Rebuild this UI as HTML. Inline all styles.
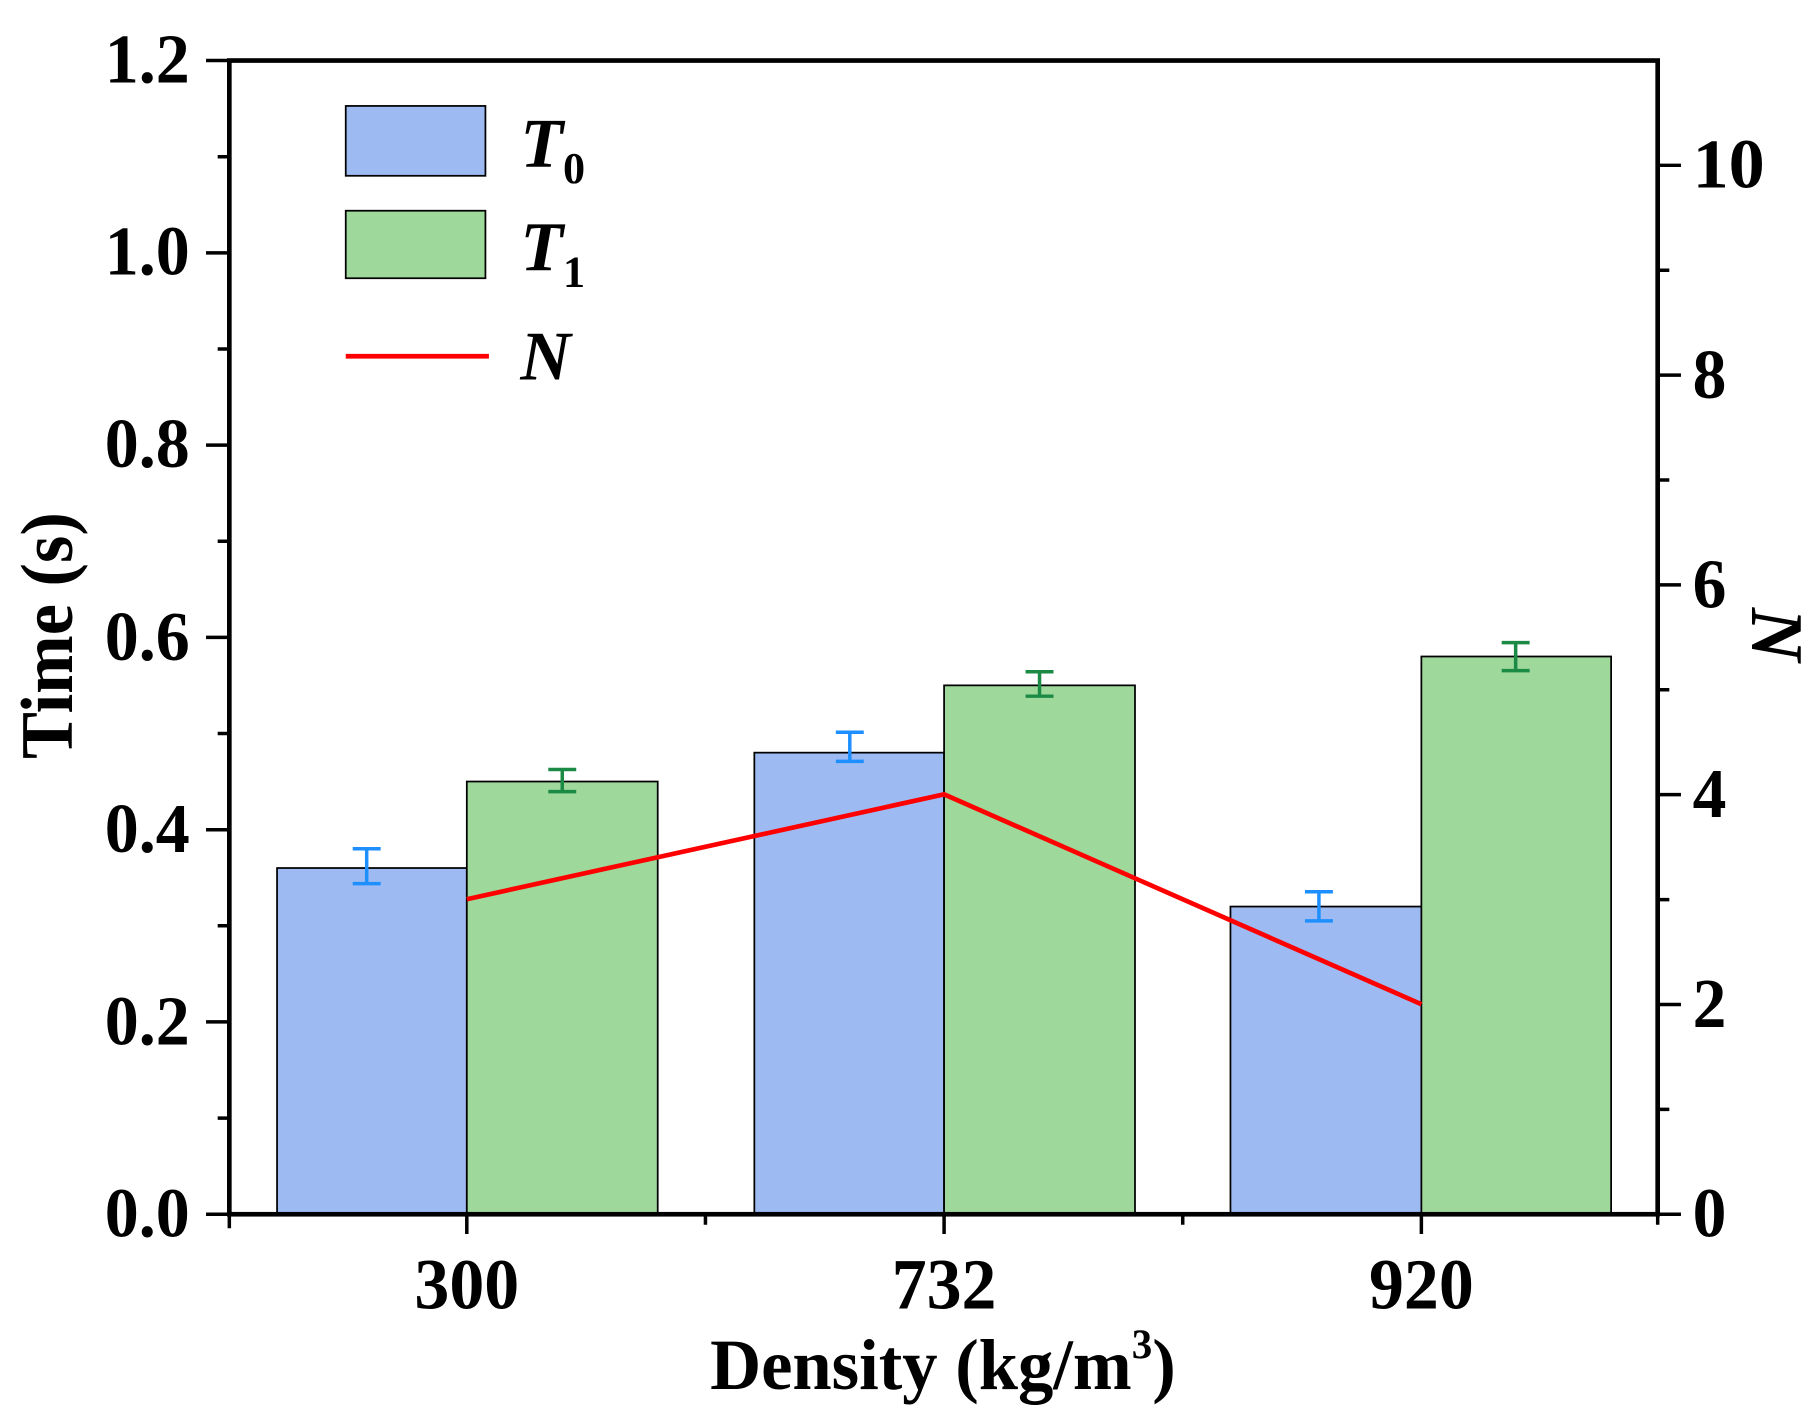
<!DOCTYPE html>
<html><head><style>html,body{margin:0;padding:0;background:#fff}</style></head><body>
<svg width="1816" height="1411" viewBox="0 0 1560 1212" preserveAspectRatio="none" xmlns="http://www.w3.org/2000/svg" font-family="'Liberation Serif',serif" font-weight="bold">
<rect width="1560" height="1212" fill="#fff"/>
<g stroke="#000" stroke-width="1.5">
<rect x="238" y="745.6" width="163" height="297.4" fill="#9dbbf2"/>
<rect x="401" y="671.3" width="164" height="371.7" fill="#9ed89b"/>
<rect x="648" y="646.5" width="163" height="396.5" fill="#9dbbf2"/>
<rect x="811" y="588.7" width="164" height="454.3" fill="#9ed89b"/>
<rect x="1057" y="778.7" width="164" height="264.3" fill="#9dbbf2"/>
<rect x="1221" y="563.9" width="163" height="479.1" fill="#9ed89b"/>
</g>
<g stroke="#1e8fff" stroke-width="3" fill="none">
<path d="M315 729v30M303 729h24M303 759h24"/>
<path d="M730 629v25M718 629h24M718 654h24"/>
<path d="M1133 766v25M1121 766h24M1121 791h24"/>
</g>
<g stroke="#1a8a45" stroke-width="3" fill="none">
<path d="M483 661v19M471 661h24M471 680h24"/>
<path d="M893 577v21M881 577h24M881 598h24"/>
<path d="M1302 552v24M1290 552h24M1290 576h24"/>
</g>
<polyline points="401,772.4 811,682.3 1221,862.6" fill="none" stroke="#f00" stroke-width="4"/>
<rect x="197" y="52" width="1227" height="991" fill="none" stroke="#000" stroke-width="4"/>
<g stroke="#000" stroke-width="3">
<path d="M177 1043h20M177 877.8h20M177 712.7h20M177 547.5h20M177 382.3h20M177 217.2h20M177 52h20"/>
<path d="M187 960.4h10M187 795.2h10M187 630.1h10M187 464.9h10M187 299.8h10M187 134.6h10"/>
<path d="M1424 1043h20M1424 862.8h20M1424 682.6h20M1424 502.4h20M1424 322.2h20M1424 142h20"/>
<path d="M1424 952.9h10M1424 772.7h10M1424 592.5h10M1424 412.3h10M1424 232.1h10"/>
<path d="M401 1043v17M811 1043v17M1221 1043v17M197 1043v12M606 1043v9M1016 1043v9M1424 1043v9"/>
</g>
<g font-size="60" text-anchor="end">
<text x="163" y="1062" textLength="73" lengthAdjust="spacingAndGlyphs">0.0</text>
<text x="163" y="897" textLength="73" lengthAdjust="spacingAndGlyphs">0.2</text>
<text x="163" y="732" textLength="73" lengthAdjust="spacingAndGlyphs">0.4</text>
<text x="163" y="567" textLength="73" lengthAdjust="spacingAndGlyphs">0.6</text>
<text x="163" y="401" textLength="73" lengthAdjust="spacingAndGlyphs">0.8</text>
<text x="163" y="236" textLength="73" lengthAdjust="spacingAndGlyphs">1.0</text>
<text x="163" y="71" textLength="73" lengthAdjust="spacingAndGlyphs">1.2</text>
</g>
<g font-size="60">
<text x="1454" y="1062" textLength="29" lengthAdjust="spacingAndGlyphs">0</text>
<text x="1454" y="882" textLength="29" lengthAdjust="spacingAndGlyphs">2</text>
<text x="1454" y="702" textLength="29" lengthAdjust="spacingAndGlyphs">4</text>
<text x="1454" y="522" textLength="29" lengthAdjust="spacingAndGlyphs">6</text>
<text x="1454" y="342" textLength="29" lengthAdjust="spacingAndGlyphs">8</text>
<text x="1454" y="161" textLength="62" lengthAdjust="spacingAndGlyphs">10</text>
</g>
<g font-size="62">
<text x="356" y="1124" textLength="90" lengthAdjust="spacingAndGlyphs">300</text>
<text x="766" y="1124" textLength="90" lengthAdjust="spacingAndGlyphs">732</text>
<text x="1176" y="1124" textLength="90" lengthAdjust="spacingAndGlyphs">920</text>
<text x="610" y="1193" font-size="62" textLength="400" lengthAdjust="spacingAndGlyphs">Density (kg/m<tspan dy="-26" font-size="36">3</tspan><tspan dy="26">)</tspan></text>
<text transform="translate(62,652) rotate(-90)" font-size="64" textLength="212" lengthAdjust="spacingAndGlyphs">Time (s)</text>
<text transform="translate(1505,522) rotate(90)" font-size="64" font-style="italic">N</text>
</g>
<rect x="297" y="91" width="120" height="60" fill="#9dbbf2" stroke="#000" stroke-width="1.5"/>
<rect x="297" y="181" width="120" height="58" fill="#9ed89b" stroke="#000" stroke-width="1.5"/>
<line x1="297" y1="306" x2="420" y2="306" stroke="#f00" stroke-width="4"/>
<g font-size="60" font-style="italic">
<text x="447" y="143">T<tspan font-size="38" font-style="normal" dy="14">0</tspan></text>
<text x="447" y="232">T<tspan font-size="38" font-style="normal" dy="14">1</tspan></text>
<text x="447" y="326">N</text>
</g>
</svg>
</body></html>
